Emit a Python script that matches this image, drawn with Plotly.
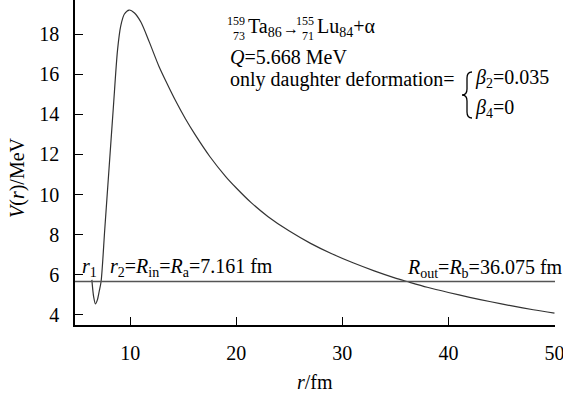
import plotly.graph_objects as go

# ---- data ----
r_fm = [6.38, 6.55, 6.72, 6.9, 7.08, 7.25, 7.6, 8.0, 8.4, 8.8, 9.1, 9.45, 9.9,
        10.4, 11.0, 11.8, 12.7, 13.5, 14.3, 15.2, 16.1, 17.5, 19.0, 20.0, 21.4,
        23.0, 25.0, 27.0, 29.0, 31.0, 33.0, 35.0, 36.1, 38.0, 40.0, 42.0, 44.0,
        46.0, 48.0, 50.0]
V_MeV = [5.75, 4.9, 4.55, 4.75, 5.2, 5.67, 8.3, 11.3, 14.3, 17.2, 18.4, 19.0, 19.2,
         19.05, 18.6, 17.6, 16.4, 15.5, 14.65, 13.78, 13.0, 11.9, 10.9, 10.33, 9.6,
         8.9, 8.18, 7.57, 7.05, 6.6, 6.2, 5.84, 5.668, 5.38, 5.12, 4.88, 4.66,
         4.45, 4.26, 4.09]
Q_value = 5.668
x_ticks = [10, 20, 30, 40, 50]
y_ticks = [4, 6, 8, 10, 12, 14, 16, 18]
x_range = [4.79, 50.05]
y_range = [3.5, 19.7]

FONT = "Liberation Serif, Times New Roman, serif"
W, H = 563, 396
L, R, T, B = 75, 8, 0, 71
PW, PH = W - L - R, H - T - B


def px(x):
    return (x - L) / PW


def py(y):
    return (H - B - y) / PH


fig = go.Figure()
fig.add_trace(go.Scatter(x=r_fm, y=V_MeV, mode="lines",
                         line=dict(color="#333333", width=1.2, shape="spline", smoothing=0.8),
                         showlegend=False, hoverinfo="skip"))
fig.add_trace(go.Scatter(x=x_range, y=[Q_value, Q_value], mode="lines",
                         line=dict(color="#555555", width=1.5),
                         showlegend=False, hoverinfo="skip"))

ann = []


def txt(text, x, y, size=20, xa="left", ya="middle", angle=0):
    ann.append(dict(text=text, x=px(x), y=py(y), xref="paper", yref="paper",
                    xanchor=xa, yanchor=ya, showarrow=False, textangle=angle,
                    font=dict(family=FONT, size=size, color="black")))


# top formula with stacked pre-scripts
txt("159", 247, 21, size=12, xa="right")
txt("73", 247, 36, size=12, xa="right")
txt("Ta<sub>86</sub>", 246, 28)
txt("→", 281, 29, size=16)
txt("155", 316, 21, size=12, xa="right")
txt("71", 316, 36, size=12, xa="right")
txt("Lu<sub>84</sub>+α", 315, 28)

txt("<i>Q</i>=5.668 MeV", 228, 57)
txt("only daughter deformation=", 228, 79)
txt("<i>β</i><sub>2</sub>=0.035", 473, 78)
txt("<i>β</i><sub>4</sub>=0", 473, 108)

txt("<i>r</i><sub>1</sub>", 80, 267)
txt("<i>r</i><sub>2</sub>=<i>R</i><sub>in</sub>=<i>R</i><sub>a</sub>=7.161 fm", 108, 267)
txt("<i>R</i><sub>out</sub>=<i>R</i><sub>b</sub>=36.075 fm", 405, 268)

txt("<i>r</i>/fm", 315, 382, xa="center")
txt("<i>V</i>(<i>r</i>)/MeV", 17, 178, xa="center", angle=-90)

# curly brace drawn as a thin path
brace_pts = [("M", 472, 72), ("Q", 467, 72, 467, 78), ("L", 467, 89),
             ("Q", 467, 95, 462, 95), ("Q", 467, 95, 467, 101), ("L", 467, 112),
             ("Q", 467, 118, 472, 118)]
path = ""
for seg in brace_pts:
    cmd = seg[0]
    coords = seg[1:]
    parts = []
    for i in range(0, len(coords), 2):
        parts.append(f"{px(coords[i]):.5f},{py(coords[i + 1]):.5f}")
    path += cmd + " " + " ".join(parts) + " "

fig.add_shape(type="path", path=path.strip(), xref="paper", yref="paper",
              line=dict(color="black", width=1.3))

fig.update_layout(
    width=W, height=H,
    margin=dict(l=L, r=R, t=T, b=B),
    paper_bgcolor="white", plot_bgcolor="white",
    font=dict(family=FONT, size=20, color="black"),
    annotations=ann,
    xaxis=dict(range=x_range, tickvals=x_ticks, ticks="inside", ticklen=8,
               tickcolor="black", tickwidth=1.2, showline=True, linecolor="black",
               linewidth=1.5, showgrid=False, zeroline=False, ticklabelstandoff=9,
               ticklabeloverflow="allow",
               tickfont=dict(family=FONT, size=20)),
    yaxis=dict(range=y_range, tickvals=y_ticks, ticks="inside", ticklen=8,
               tickcolor="black", tickwidth=1.2, showline=True, linecolor="black",
               linewidth=1.5, showgrid=False, zeroline=False, ticklabelstandoff=10,
               ticklabeloverflow="allow",
               tickfont=dict(family=FONT, size=20)),
)

fig.write_html("out.html", config={"displayModeBar": False},
               post_script="document.body.style.margin='0';")
